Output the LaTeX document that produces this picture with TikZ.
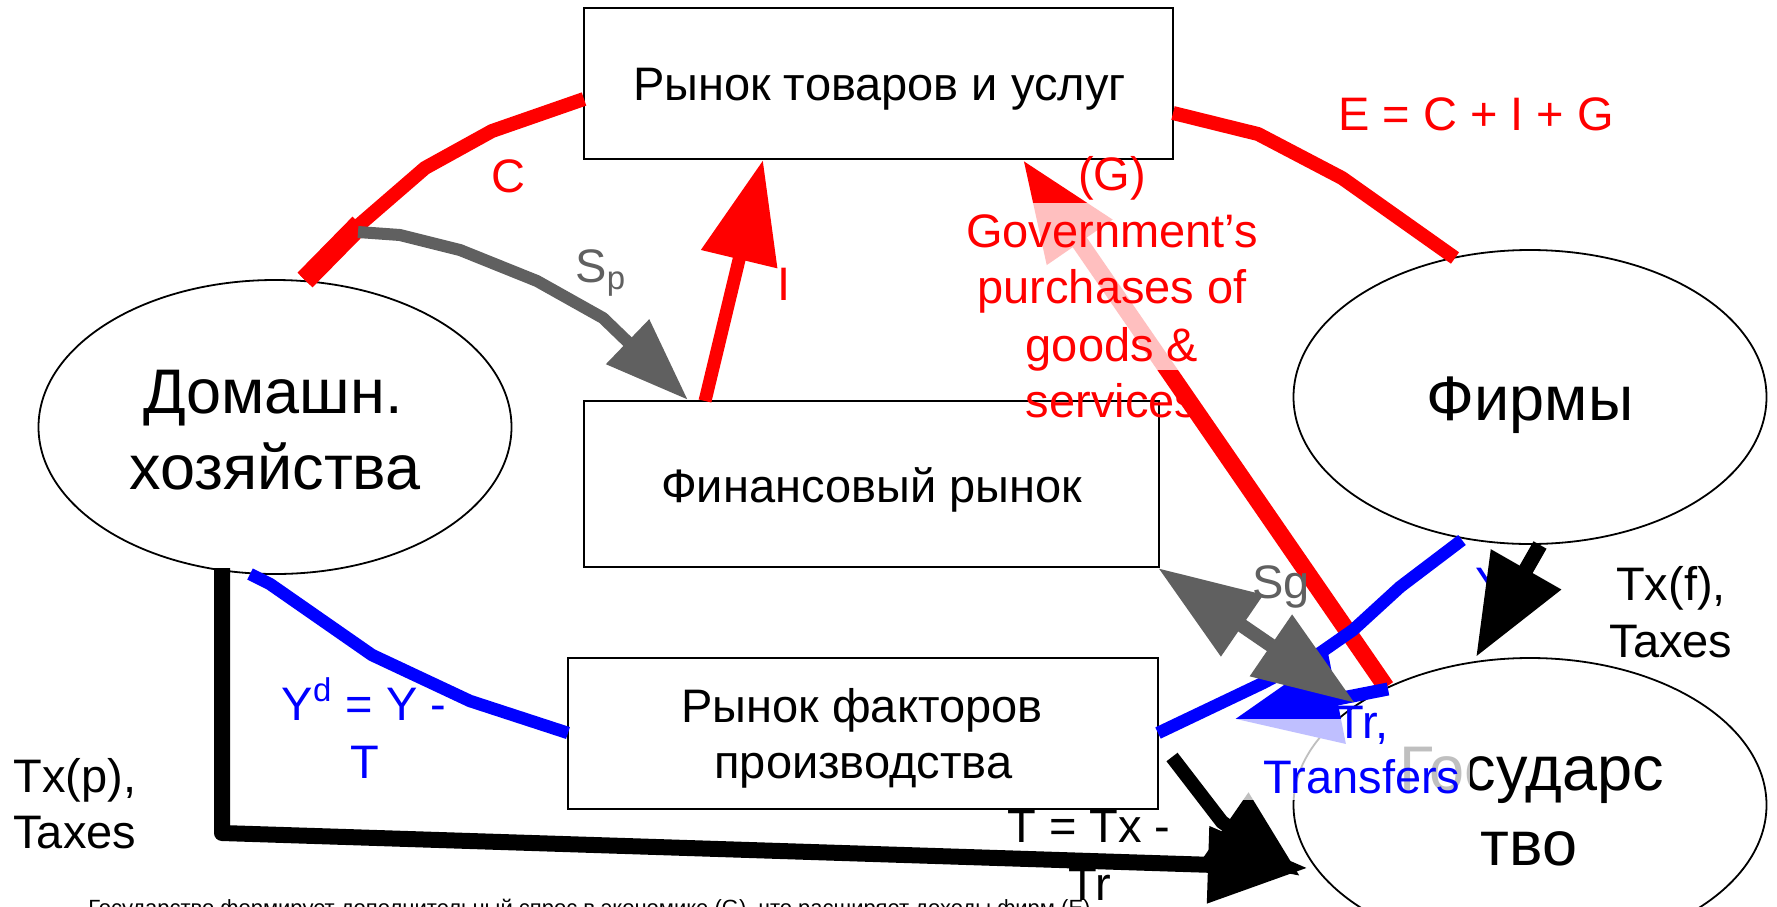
\documentclass[tikz,border=0pt]{standalone}
\usepackage{fontspec}
\setmainfont{Liberation Sans}
\usetikzlibrary{arrows.meta,shapes.geometric}
\definecolor{sgray}{RGB}{96,96,96}
\begin{document}
\begin{tikzpicture}[x=0.5pt,y=-0.5pt,
  ell/.style={ellipse,draw=black,line width=0.9pt,fill=white,minimum width=236.5pt,minimum height=147pt,inner sep=0pt},
  mbox/.style={rectangle,draw=black,line width=0.9pt,fill=white,inner sep=0pt},
  txt/.style={anchor=base,inner sep=0pt,font=\fontsize{23.5}{28}\selectfont},
  big/.style={anchor=base,inner sep=0pt,font=\fontsize{31.5}{38}\selectfont},
  flow/.style={line width=#1,line join=round},
]
\useasboundingbox (0,0) rectangle (1777,906);
\fill[white] (0,0) rectangle (1777,906);
\clip (0,0) rectangle (1777,906);

% main shapes
\node[ell] (hh) at (275,427) {};
\node[ell] (firm) at (1530,397) {};
\node[ell] (gov) at (1530,805) {};
\node[mbox,minimum width=294.5pt,minimum height=75.5pt] (goods) at (878.5,83.5) {};
\node[mbox,minimum width=287.5pt,minimum height=83pt] (fin) at (871.5,484) {};
\node[mbox,minimum width=295pt,minimum height=75.5pt] (fact) at (863,733.5) {};

\node[big] (hh1) at (273,413) {Домашн.};
\node[big] (hh2) at (275,489) {хозяйства};
\node[big] (firmt) at (1530,420) {Фирмы};
\node[big] (gov1) at (1532,790) {Государс};
\node[big] (gov2) at (1529,865) {тво};
\node[txt] (goodst) at (879.5,100) {Рынок товаров и услуг};
\node[txt] (fint) at (871.5,502) {Финансовый рынок};
\node[txt] (fact1) at (862,722) {Рынок факторов};
\node[txt] (fact2) at (863.5,778) {производства};

% connector end points
\coordinate (cS) at (305,280);
\coordinate (cE) at (584,99);
\coordinate (eS) at (1173,113);
\coordinate (eE) at (1455,258);
\coordinate (iS) at (705,401);
\coordinate (iE) at (763,160);
\coordinate (gS) at (1386,687);
\coordinate (gE) at (1023,160);
\coordinate (spS) at (358,232);
\coordinate (spE) at (688,400);
\coordinate (ylS) at (250,574);
\coordinate (ylE) at (568,733);
\coordinate (yrS) at (1158,733);
\coordinate (yrE) at (1462,540);
\coordinate (trS) at (1388,689);
\coordinate (trE) at (1235,719);
\coordinate (sgS) at (1158,568);
\coordinate (sgE) at (1355,703);
\coordinate (tfS) at (1540,545);
\coordinate (tfE) at (1476,657);
\coordinate (tpS) at (222,568);
\coordinate (tpE) at (1308,868);
\coordinate (tS) at (1172,757);
\coordinate (tE) at (1300,876);

% red G label part drawn under the arrow
\node[txt,text=red] (g5) at (1112,417) {services};
\draw[red,line width=8.5pt,-{Triangle[length=50pt,width=37.5pt]}] (gS) -- (gE);

% red flows
\draw[red,flow=7pt] (cS) -- (358,226) -- (425,168) -- (492,131) -- (cE);
\draw[red,line width=10.5pt] (cS) -- (360,224);
\draw[red,flow=7pt] (eS) -- (1258,134) -- (1342,178) -- (eE);
\draw[red,line width=6.5pt,-{Triangle[length=51pt,width=37.5pt]}] (iS) -- (iE);

% gray Sp
\draw[sgray,flow=6pt,-{Triangle[length=42pt,width=29.5pt]}] (spS) -- (400,235) -- (460,250) -- (537,281) -- (603,318) -- (spE);

% blue flows
\draw[blue,flow=6.25pt] (ylS) -- (270,584) -- (372,655) -- (470,701) -- (ylE);
\draw[blue,flow=6.25pt] (yrS) -- (1263,683) -- (1320,653) -- (1353,630) -- (1400,587) -- (yrE);
\draw[blue,line width=6.5pt,-{Triangle[length=52pt,width=44pt]}] (trS) -- (trE);

% gray Sg
\draw[sgray,line width=7pt,{Triangle[length=51pt,width=35.5pt]}-{Triangle[length=51pt,width=35.5pt]}] (sgS) -- (sgE);

% black flows
\node[txt,text=blue] (ylab) at (1491,600) {Y};
\draw[black,line width=7.5pt,-{Triangle[length=50.5pt,width=38.5pt]}] (tfS) -- (tfE);
\draw[black,flow=8pt,-{Triangle[length=50pt,width=36.5pt]}] (tpS) -- (222,833) -- (tpE);
\draw[black,flow=7pt,-{Triangle[length=45pt,width=37.5pt]}] (tS) -- (1222,822) -- (tE);

% translucent label backgrounds
\fill[white,fill opacity=0.75] (960,203) rectangle (1262,370);
\fill[white,fill opacity=0.75] (1228,719) rectangle (1470,800);

% labels
\node[txt,text=red] (g1) at (1112,190) {(G)};
\node[txt,text=red] (g2) at (1112,247) {Government’s};
\node[txt,text=red] (g3) at (1112,303) {purchases of};
\node[txt,text=red] (g4) at (1112,361) {goods \&};
\node[txt,text=red] (lc) at (508,192) {C};
\node[txt,text=red] (le) at (1476,130) {E = C + I + G};
\node[txt,text=red] (li) at (784,300) {I};
\node[txt,text=sgray,anchor=base west] (lsp) at (575,282) {S\textsubscript{p}};
\node[txt,text=sgray,anchor=base west] (lsg) at (1252,598) {Sg};
\node[txt] (ltf1) at (1671,600) {Tx(f),};
\node[txt] (ltf2) at (1671,657) {Taxes};
\node[txt,anchor=base west] (ltp1) at (13,792) {Tx(p),};
\node[txt,anchor=base west] (ltp2) at (13,848) {Taxes};
\node[txt,text=blue] (lyd1) at (364,720) {Y\textsuperscript{d} = Y -};
\node[txt,text=blue] (lyd2) at (365,778) {T};
\node[txt] (lt1) at (1089,842) {T = Tx -};
\node[txt] (lt2) at (1090,900) {Tr};
\node[txt,text=blue] (ltr1) at (1362,738) {Tr,};
\node[txt,text=blue] (ltr2) at (1362,793) {Transfers};
\node[anchor=base west,inner sep=0pt,font=\fontsize{11}{13}\selectfont] (note) at (88,915) {Государство формирует дополнительный спрос в экономике (G), что расширяет доходы фирм (E).};
\end{tikzpicture}
\end{document}
